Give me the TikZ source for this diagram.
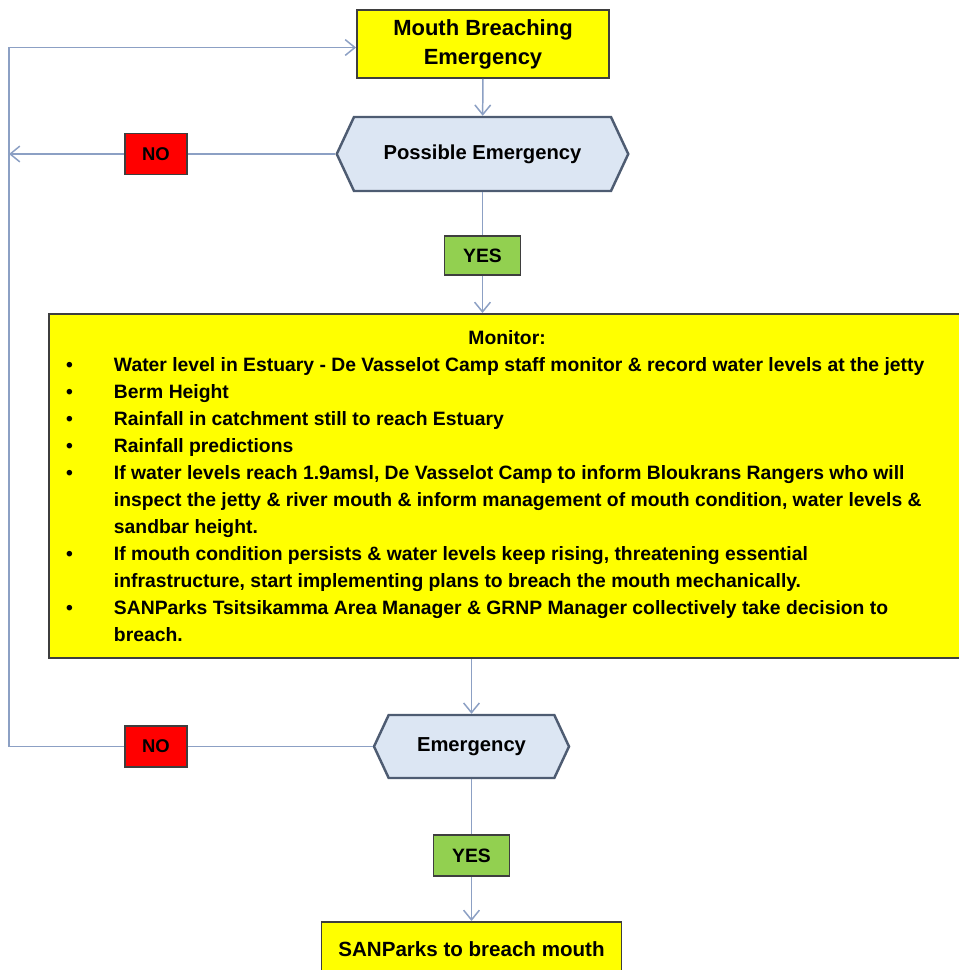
\documentclass[tikz,border=0pt]{standalone}
\usepackage{fontspec}
\setmainfont{Liberation Sans}
\usepackage{tikz}
\usetikzlibrary{positioning, arrows.meta, shapes.symbols}
\definecolor{ink}{RGB}{62,62,62}
\definecolor{wire}{RGB}{140,160,196}
\definecolor{hexfill}{RGB}{220,230,243}
\definecolor{hexdraw}{RGB}{78,92,114}
\definecolor{warn}{RGB}{255,255,0}
\definecolor{nored}{RGB}{255,0,0}
\definecolor{yesgreen}{RGB}{146,208,80}

\newenvironment{monlist}{%
  \begin{list}{\textbullet}{\setlength\leftmargin{27.3pt}\setlength\labelwidth{27.3pt}%
    \setlength\labelsep{0pt}\setlength\itemsep{0pt}\setlength\parsep{0pt}%
    \setlength\topsep{0pt}\setlength\partopsep{0pt}\def\makelabel##1{##1\hfil}}}%
  {\end{list}}

\begin{document}
\begin{tikzpicture}[
  box/.style={draw=ink, line width=1.1pt, align=center, font=\bfseries},
  term/.style={box, fill=warn},
  dec/.style={signal, signal to=west and east, signal pointer angle=130,
              draw=hexdraw, line width=1.4pt, fill=hexfill, inner sep=0pt,
              font=\fontsize{11.5}{13}\selectfont\bfseries},
  tag/.style={box, inner sep=0pt, minimum width=1.24cm, minimum height=.82cm},
  ar/.style={-{Straight Barb[length=5.5pt, width=9pt]}, draw=wire, line width=.85pt},
  ln/.style={draw=wire, line width=.85pt},
]
\useasboundingbox (0,0) rectangle (19.18,-19.4);

\node[term, minimum width=5.04cm, minimum height=1.36cm,
      font=\fontsize{12.5}{16.5}\selectfont\bfseries] (start) at (9.66,-0.88) {Mouth Breaching\\Emergency};
\node[dec, minimum width=5.83cm, minimum height=1.48cm] (poss) at (9.65,-3.08) {Possible Emergency};
\node[tag, fill=nored, font=\fontsize{10.5}{12}\selectfont\bfseries] (no1) at (3.12,-3.08) {NO};
\node[tag, fill=yesgreen, minimum width=1.52cm, minimum height=.78cm,
      font=\fontsize{11}{13}\selectfont\bfseries] (yes1) at (9.65,-5.11) {YES};

\node[term, anchor=north west, text width=502pt, inner xsep=9.7pt, minimum height=6.88cm,
      align=justify, font=\fontsize{11}{15.4}\selectfont\bfseries] (mon) at (0.96,-6.26) {%
  \centerline{Monitor:}
  \begin{monlist}
  \item Water level in Estuary - De Vasselot Camp staff monitor \& record water levels at the jetty
  \item Berm Height
  \item Rainfall in catchment still to reach Estuary
  \item Rainfall predictions
  \item If water levels reach 1.9amsl, De Vasselot Camp to inform Bloukrans Rangers who will\newline
        inspect the jetty \& river mouth \& inform management of mouth condition, water levels \&\newline
        sandbar height.
  \item If mouth condition persists \& water levels keep rising, threatening essential\newline
        infrastructure, start implementing plans to breach the mouth mechanically.
  \item SANParks Tsitsikamma Area Manager \& GRNP Manager collectively take decision to\newline
        breach.
  \end{monlist}};

\node[dec, minimum width=3.9cm, minimum height=1.26cm] (emer) at (9.43,-14.93) {Emergency};
\node[tag, fill=nored, font=\fontsize{10.5}{12}\selectfont\bfseries] (no2) at (3.12,-14.93) {NO};
\node[tag, fill=yesgreen, minimum width=1.52cm, minimum height=.82cm,
      font=\fontsize{11}{13}\selectfont\bfseries] (yes2) at (9.43,-17.11) {YES};
\node[term, anchor=north, minimum width=6cm, minimum height=1.1cm,
      font=\fontsize{11.7}{14}\selectfont\bfseries] (act) at (9.43,-18.42) {SANParks to breach mouth};

\coordinate (cl) at (0.18,-14.93);

\draw[ar] (start) -- (poss);
\draw[ln] (poss.west) -- (no1.east);
\draw[ar] (no1.west) -- (no1.west -| cl);
\draw[ln] (poss.south) -- (yes1.north);
\draw[ar] (yes1.south) -- (yes1.south |- mon.north);
\draw[ar] (mon.south -| emer.north) -- (emer.north);
\draw[ln] (emer.west) -- (no2.east);
\draw[ar] (no2.west) -- (cl) |- ([yshift=-2pt]start.west);
\draw[ln] (emer.south) -- (yes2.north);
\draw[ar] (yes2.south) -- (act.north);
\end{tikzpicture}
\end{document}
